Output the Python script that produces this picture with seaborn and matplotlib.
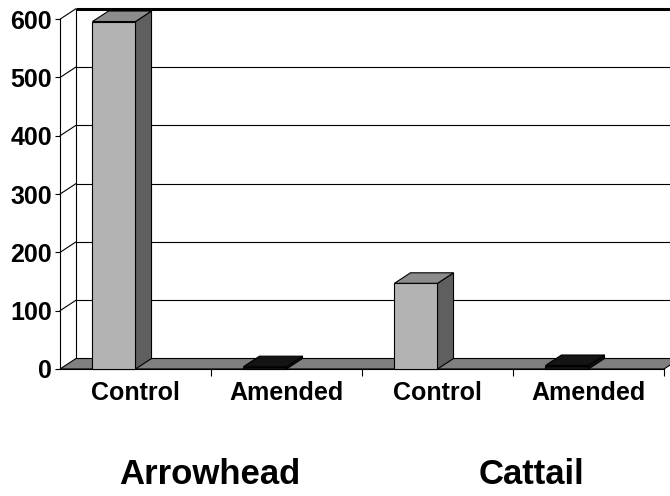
import matplotlib
matplotlib.use("Agg")
import matplotlib.pyplot as plt
from matplotlib.patches import Polygon, Rectangle
import pandas as pd
import seaborn as sns

# Data
species = ["Arrowhead", "Arrowhead", "Cattail", "Cattail"]
treatment = ["Control", "Amended", "Control", "Amended"]
values = [596, 4, 147, 6]
y_ticks = [0, 100, 200, 300, 400, 500, 600]
group_labels = ["Arrowhead", "Cattail"]

# Colours of the three visible faces of each column
front_colors = ["#b3b3b3", "#111111", "#b3b3b3", "#111111"]
side_colors = ["#5f5f5f", "#111111", "#5f5f5f", "#111111"]
top_colors = ["#8c8c8c", "#141414", "#8c8c8c", "#141414"]

sns.set_theme(style="white")
plt.rcParams["font.family"] = ["Liberation Sans", "DejaVu Sans"]
plt.rcParams["font.weight"] = "bold"
plt.rcParams["text.color"] = "black"
plt.rcParams["xtick.color"] = "black"
plt.rcParams["ytick.color"] = "black"
plt.rcParams["axes.labelcolor"] = "black"

W, H = 670, 496
fig = plt.figure(figsize=(W / 100, H / 100), dpi=100)
fig.patch.set_facecolor("white")

# front plane of the plot: x from 60 to 664 px, y from 369 (0) to 19 (600)
ax_left, ax_right, ax_bottom, ax_top = 60, 664, 369, 19.2
ax = fig.add_axes([ax_left / W, 1 - ax_bottom / H,
                   (ax_right - ax_left) / W, (ax_bottom - ax_top) / H])
ax.set_facecolor("none")

df = pd.DataFrame({
    "slot": [f"{s} {t}" for s, t in zip(species, treatment)],
    "value": values,
})
order = list(df["slot"])

bar_w = 0.285
sns.barplot(data=df, x="slot", y="value", hue="slot", order=order,
            hue_order=order, palette=front_colors, width=bar_w,
            legend=False, dodge=False, saturation=1, ax=ax,
            edgecolor="black", linewidth=0.8, zorder=4)
bars = sorted([p for p in ax.patches if isinstance(p, Rectangle)],
              key=lambda p: p.get_x())

x0, x1 = -0.5, 3.5
ymax = 600
ax.set_xlim(x0, x1)
ax.set_ylim(0, ymax)

# depth offset of the back wall, pixels -> data units
px_x = (ax_right - ax_left) / (x1 - x0)
px_y = (ax_bottom - ax_top) / ymax
DX = 16 / px_x
DY = 10.5 / px_y
shift = -21.5 / px_x  # columns stand left of the category centre

# back wall gridlines and left side wall
for v in y_ticks[1:]:
    lw = 2.2 if v == ymax else 0.8
    ax.plot([x0 + DX, x1 + DX + 1], [v + DY, v + DY], color="black",
            lw=lw, clip_on=False, zorder=0, solid_capstyle="butt")
for v in y_ticks[1:]:
    ax.plot([x0, x0 + DX], [v, v + DY], color="black", lw=0.8,
            clip_on=False, zorder=0)
ax.plot([x0 + DX, x0 + DX], [DY, ymax + DY], color="black", lw=0.8,
        clip_on=False, zorder=0)

# floor
floor = Polygon([(x0, 0), (x1, 0), (x1 + DX, DY), (x0 + DX, DY)],
                closed=True, facecolor="#808080", edgecolor="black",
                lw=0.8, clip_on=False, zorder=1)
ax.add_patch(floor)

# 3-D faces of the columns
for i, p in enumerate(bars):
    p.set_x(p.get_x() + shift)
    p.set_clip_on(False)
    xl = p.get_x()
    xr = xl + p.get_width()
    h = p.get_height()
    side = Polygon([(xr, 0), (xr, h), (xr + DX, h + DY), (xr + DX, DY)],
                   closed=True, facecolor=side_colors[i], edgecolor="black",
                   lw=0.8, clip_on=False, zorder=4)
    top = Polygon([(xl, h), (xr, h), (xr + DX, h + DY), (xl + DX, h + DY)],
                  closed=True, facecolor=top_colors[i], edgecolor="black",
                  lw=0.8, clip_on=False, zorder=4)
    ax.add_patch(side)
    ax.add_patch(top)

# axes lines
for s in ["top", "right"]:
    ax.spines[s].set_visible(False)
for s in ["left", "bottom"]:
    ax.spines[s].set_color("black")
    ax.spines[s].set_linewidth(0.8)
    ax.spines[s].set_zorder(2)

ax.set_yticks(y_ticks)
ax.set_yticklabels([str(v) for v in y_ticks], fontsize=18, fontweight="bold",
                   color="black")
ax.tick_params(axis="y", direction="out", length=3.6, width=0.8,
               color="black", pad=2.0, left=True)

ax.set_xticks([0.5, 1.5, 2.5, 3.5])
ax.set_xticklabels([])
ax.set_xticks(range(4), minor=True)
ax.set_xticklabels(treatment, minor=True, fontsize=18, fontweight="bold",
                   color="black")
ax.tick_params(axis="x", which="major", direction="out", length=5,
               width=0.8, color="black", bottom=True)
ax.tick_params(axis="x", which="minor", length=0, pad=8.5)
ax.set_xlabel("")
ax.set_ylabel("")

# species labels under each pair
for label, xc in zip(group_labels, [210, 532]):
    fig.text(xc / W, 1 - 475 / H, label, ha="center", va="center",
             fontsize=25, fontweight="bold", color="black")

fig.savefig("out.png", dpi=100, facecolor="white")
